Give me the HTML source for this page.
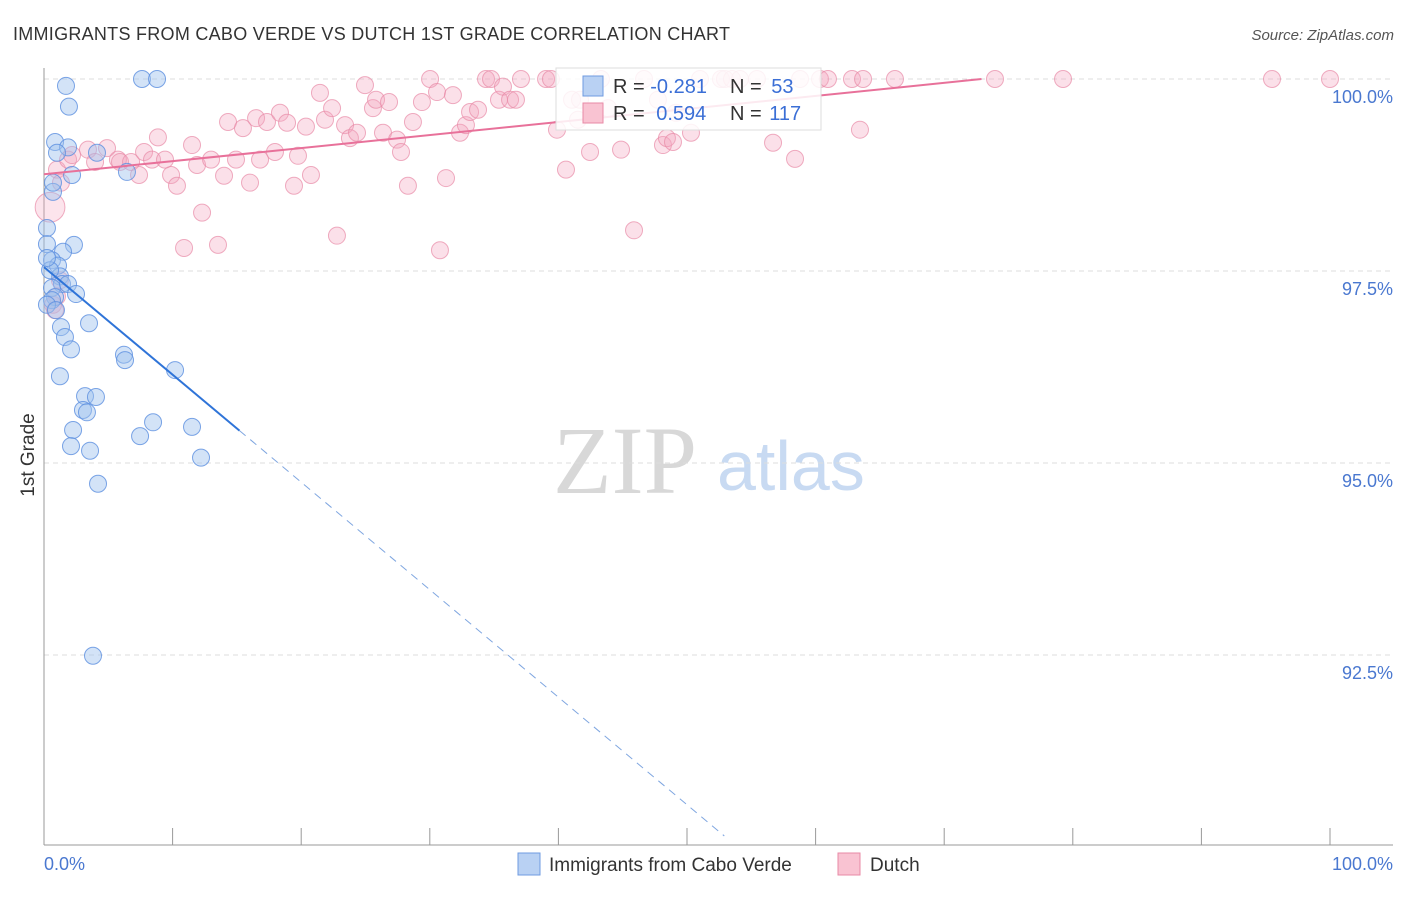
<!DOCTYPE html>
<html><head><meta charset="utf-8"><style>
body{margin:0;background:#fff;font-family:"Liberation Sans",sans-serif;}
svg text{font-family:"Liberation Sans",sans-serif;}
</style></head><body>
<svg id="chart" width="1406" height="892" xmlns="http://www.w3.org/2000/svg">
<text x="13" y="40" font-size="18" fill="#333" textLength="717">IMMIGRANTS FROM CABO VERDE VS DUTCH 1ST GRADE CORRELATION CHART</text>
<text x="1394" y="40" font-size="15" fill="#555" font-style="italic" text-anchor="end">Source: ZipAtlas.com</text>
<g>
<text x="553" y="493" font-size="96" fill="#d8d8d8" font-family="Liberation Serif" style="font-family:'Liberation Serif',serif">ZIP</text>
<text x="717" y="490" font-size="70" fill="#c8daf2">atlas</text>
</g>
<g id="grid"></g>
<g id="axes"></g>
<g id="pinkpts"></g>
<g id="bluepts"></g>
<g id="lines"></g>
<g>
<rect x="556" y="68" width="265" height="62" fill="#fff" fill-opacity="0.85" stroke="#ddd"/>
<rect x="583" y="76" width="20" height="20" fill="#b9d1f3" stroke="#6f9be0"/>
<text x="613" y="93" font-size="20" fill="#333">R = <tspan fill="#3b6fd6">-0.281</tspan></text>
<text x="730" y="93" font-size="20" fill="#333">N = <tspan dx="4" fill="#3b6fd6">53</tspan></text>
<rect x="583" y="103" width="20" height="20" fill="#f9c3d2" stroke="#e88aa6"/>
<text x="613" y="120" font-size="20" fill="#333">R = <tspan dx="6" fill="#3b6fd6">0.594</tspan></text>
<text x="730" y="120" font-size="20" fill="#333">N = <tspan dx="2" fill="#3b6fd6">117</tspan></text>
</g>
<g>
<rect x="518" y="853" width="22" height="22" fill="#b9d1f3" stroke="#6f9be0"/>
<text x="549" y="871" font-size="19" fill="#333">Immigrants from Cabo Verde</text>
<rect x="838" y="853" width="22" height="22" fill="#f9c3d2" stroke="#e88aa6"/>
<text x="870" y="871" font-size="19" fill="#333">Dutch</text>
</g>
<text transform="translate(34,455) rotate(-90)" font-size="19" fill="#333" text-anchor="middle">1st Grade</text>
</svg>
<script>
const blueX=[1.71,7.62,8.79,1.94,0.86,1.87,1.01,4.12,2.18,6.45,0.70,0.70,0.23,0.23,2.33,1.48,0.62,1.09,1.24,1.40,0.62,1.87,2.49,0.86,0.62,0.23,3.50,1.32,1.63,2.10,6.22,6.30,1.24,10.19,3.19,4.04,3.03,3.34,2.26,11.51,8.48,7.47,2.10,3.58,12.21,4.20,3.81,0.47,0.93,0.23];
const blueY=[99.91,100,100,99.64,99.18,99.11,99.04,99.04,98.75,98.79,98.53,98.65,98.06,97.85,97.84,97.75,97.64,97.57,97.43,97.33,97.28,97.33,97.20,97.16,97.12,97.06,96.82,96.77,96.64,96.48,96.41,96.34,96.13,96.21,95.87,95.86,95.69,95.66,95.43,95.47,95.53,95.35,95.22,95.16,95.07,94.73,92.49,97.51,96.99,97.67];
const pinkX=[0.47,1.01,1.87,1.32,2.18,3.42,3.97,4.90,5.75,5.91,6.77,7.39,7.78,8.40,8.86,9.41,9.88,10.34,10.89,11.51,11.90,12.29,12.99,13.53,14.0,14.31,14.93,15.47,16.02,16.49,16.80,17.34,17.96,18.35,18.90,19.44,19.75,20.37,20.76,21.46,21.85,22.40,22.78,23.41,23.79,24.34,24.96,25.58,25.82,26.36,26.83,27.45,27.76,28.30,28.69,29.39,30.02,30.56,30.79,31.26,31.80,32.35,32.81,33.13,33.75,34.37,34.76,35.38,35.69,36.24,36.70,37.09,39.04,39.42,39.89,40.59,41.06,41.52,42.46,43.31,44.87,45.88,47.74,48.13,48.44,48.91,50.31,52.64,52.95,53.50,54.12,55.44,56.69,58.40,58.79,60.34,60.96,62.83,63.45,63.69,66.17,73.95,79.24,95.49,100,41.68,43.86,46.66,49.14,51.01,1.24,0.70,0.86,1.01];
const pinkY=[98.33,98.82,98.95,98.65,99.01,99.08,98.92,99.10,98.95,98.92,98.92,98.75,99.05,98.95,99.24,98.95,98.75,98.61,97.80,99.14,98.88,98.26,98.95,97.84,98.74,99.44,98.95,99.36,98.65,99.49,98.95,99.44,99.05,99.56,99.43,98.61,99.00,99.38,98.75,99.82,99.47,99.62,97.96,99.40,99.23,99.30,99.92,99.62,99.73,99.30,99.70,99.21,99.05,98.61,99.44,99.70,100,99.83,97.77,98.71,99.79,99.30,99.40,99.57,99.60,100,100,99.73,99.90,99.73,99.73,100,100,100,99.34,98.82,99.73,99.47,99.05,100,99.08,98.03,99.73,99.14,99.23,99.18,99.30,100,100,100,100,100,99.17,98.96,100,100,100,100,99.34,100,100,100,100,100,100,99.73,99.62,100,99.56,100,97.38,97.06,96.99,97.17];
const pinkW=[1.75];
const blueTrend=[97.55,-0.14,15.2,52.9];
const pinkTrend=[98.76,0.017,72.9];
const yTicks=[100,97.5,95,92.5];
const yTickLabels=["100.0%","97.5%","95.0%","92.5%"];
const xTicks=[0,10,20,30,40,50,60,70,80,90,100];

const NS="http://www.w3.org/2000/svg";
const X0=44,X1=1330,Y100=79,PXPER=76.8;
function sx(p){return X0+p*(X1-X0)/100;}
function sy(v){return Y100+(100-v)*PXPER;}
function mk(tag,attrs,parent){const e=document.createElementNS(NS,tag);for(const k in attrs)e.setAttribute(k,attrs[k]);parent.appendChild(e);return e;}
const grid=document.getElementById('grid'),axes=document.getElementById('axes');
yTicks.forEach((t,i)=>{
 const l=mk('line',{x1:44,x2:1393,y1:sy(t),y2:sy(t),stroke:'#ddd','stroke-dasharray':'5,4'},grid);
 
 
 const tx=mk('text',{x:1393,y:sy(t)+24,'font-size':18,fill:'#4a78d0','text-anchor':'end'},axes);
 tx.textContent=yTickLabels[i];
 
 
});
let a=mk('line',{x1:44,x2:44,y1:68,y2:845,stroke:'#999'},axes);


a=mk('line',{x1:44,x2:1393,y1:845,y2:845,stroke:'#999'},axes);


xTicks.forEach(t=>{
 const l=mk('line',{x1:sx(t),x2:sx(t),y1:828,y2:845,stroke:'#999'},axes);
 
 
});
let t0=mk('text',{x:44,y:870,'font-size':18,fill:'#4a78d0'},axes);t0.textContent='0.0%';


let t1=mk('text',{x:1393,y:870,'font-size':18,fill:'#4a78d0','text-anchor':'end'},axes);t1.textContent='100.0%';



const pg=document.getElementById('pinkpts');
pinkX.forEach((x,i)=>{
 const w=pinkW[i]||1;
 const c=mk('circle',{cx:sx(x),cy:sy(pinkY[i]),r:8.5*w,fill:'#f4a7bf','fill-opacity':w>1?0.3:0.35,stroke:'#e88aa6','stroke-opacity':0.7,'stroke-width':1},pg);
 
 
});
const bg=document.getElementById('bluepts');
blueX.forEach((x,i)=>{
 const c=mk('circle',{cx:sx(x),cy:sy(blueY[i]),r:8.5,fill:'#9dc0ee','fill-opacity':0.45,stroke:'#5b8fe0','stroke-opacity':0.8,'stroke-width':1},bg);
 
 
});
const lg=document.getElementById('lines');
const bt=v=>blueTrend[0]+blueTrend[1]*v;
let l1=mk('line',{x1:sx(0),y1:sy(bt(0)),x2:sx(blueTrend[2]),y2:sy(bt(blueTrend[2])),stroke:'#2f74d8','stroke-width':2},lg);


let l2=mk('line',{x1:sx(blueTrend[2]),y1:sy(bt(blueTrend[2])),x2:sx(blueTrend[3]),y2:sy(bt(blueTrend[3])),stroke:'#7fa6e0','stroke-width':1,'stroke-dasharray':'8,6'},lg);


const pt=v=>pinkTrend[0]+pinkTrend[1]*v;
let l3=mk('line',{x1:sx(0),y1:sy(pt(0)),x2:sx(pinkTrend[2]),y2:sy(pt(pinkTrend[2])),stroke:'#e8719a','stroke-width':2},lg);


</script>
</body></html>
